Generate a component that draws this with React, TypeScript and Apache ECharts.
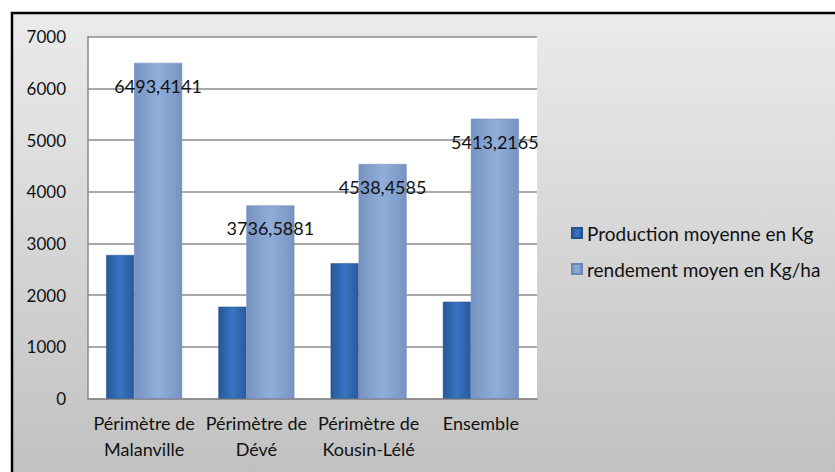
import React, { useEffect, useRef } from "react";
import * as echarts from "echarts";

const categories = [
  "Périmètre de\nMalanville",
  "Périmètre de\nDévé",
  "Périmètre de\nKousin-Lélé",
  "Ensemble",
];
const productionName = "Production moyenne en Kg";
const rendementName = "rendement moyen en Kg/ha";
const production = [2778, 1778, 2617, 1874];
const rendement = [6493.4141, 3736.5881, 4538.4585, 5413.2165];
const yTicks = { min: 0, max: 7000, interval: 1000 };

const FONT = "Lato, 'Open Sans', sans-serif";

export default function App() {
  const ref = useRef<HTMLDivElement>(null);
  useEffect(() => {
    if (!ref.current) return;
    const chart = echarts.init(ref.current, undefined, { renderer: "svg" });
    const darkGrad = new echarts.graphic.LinearGradient(0, 0, 1, 0, [
      { offset: 0, color: "#285795" },
      { offset: 0.5, color: "#3775c2" },
      { offset: 1, color: "#2a5a9c" },
    ]);
    const lightGrad = new echarts.graphic.LinearGradient(0, 0, 1, 0, [
      { offset: 0, color: "#7592c0" },
      { offset: 0.5, color: "#91aedb" },
      { offset: 1, color: "#7893c0" },
    ]);
    chart.setOption({
      animation: false,
      backgroundColor: "#ffffff",
      textStyle: { fontFamily: FONT },
      graphic: [
        {
          type: "rect",
          z: -10,
          silent: true,
          shape: { x: 12, y: 13, width: 840, height: 470 },
          style: {
            fill: new echarts.graphic.LinearGradient(0, 0, 0, 1, [
              { offset: 0, color: "#ebebeb" },
              { offset: 1, color: "#c0c0c0" },
            ]),
            stroke: "#000000",
            lineWidth: 2.5,
          },
        },
        {
          type: "rect",
          z: -9,
          silent: true,
          shape: { x: 88, y: 36.7, width: 449, height: 362 },
          style: { fill: "#ffffff" },
        },
      ],
      grid: { left: 88, right: 298, top: 36.7, bottom: 73.4, containLabel: false },
      legend: {
        orient: "vertical",
        left: 566,
        top: 218,
        itemWidth: 10,
        itemHeight: 10,
        itemGap: 16,
        icon: "rect",
        textStyle: { fontSize: 19, color: "#111", fontFamily: FONT, lineHeight: 20 },
        data: [productionName, rendementName],
      },
      xAxis: {
        type: "category",
        data: categories,
        axisLine: { show: true, lineStyle: { color: "#8a8a8a", width: 1.5 } },
        axisTick: { show: false },
        axisLabel: {
          interval: 0,
          fontSize: 18,
          color: "#111",
          lineHeight: 26,
          margin: 11,
          fontFamily: FONT,
        },
      },
      yAxis: {
        type: "value",
        min: yTicks.min,
        max: yTicks.max,
        interval: yTicks.interval,
        axisLine: { show: true, lineStyle: { color: "#8a8a8a", width: 1.5 } },
        axisTick: { show: false },
        splitLine: { show: true, lineStyle: { color: "#8c8c8c", width: 1.5 } },
        axisLabel: {
          fontSize: 17,
          color: "#111",
          margin: 22,
          fontFamily: FONT,
          formatter: (v: number) => String(v),
        },
      },
      series: [
        {
          name: productionName,
          type: "bar",
          data: production,
          barWidth: 28,
          barGap: "0%",
          itemStyle: { color: darkGrad, borderColor: "#24508c", borderWidth: 0.5 },
        },
        {
          name: rendementName,
          type: "bar",
          data: rendement,
          barWidth: 48,
          barGap: "0%",
          itemStyle: { color: lightGrad, borderColor: "#6a86b4", borderWidth: 0.5 },
          label: {
            show: true,
            position: "insideTop",
            distance: 14,
            fontSize: 18,
            color: "#111",
            fontFamily: FONT,
            formatter: (p: any) => String(p.value).replace(".", ","),
          },
        },
      ],
    });
    return () => chart.dispose();
  }, []);
  return (
    <div
      ref={ref}
      style={{ position: "fixed", left: 0, top: 0, width: 835, height: 472 }}
    />
  );
}
